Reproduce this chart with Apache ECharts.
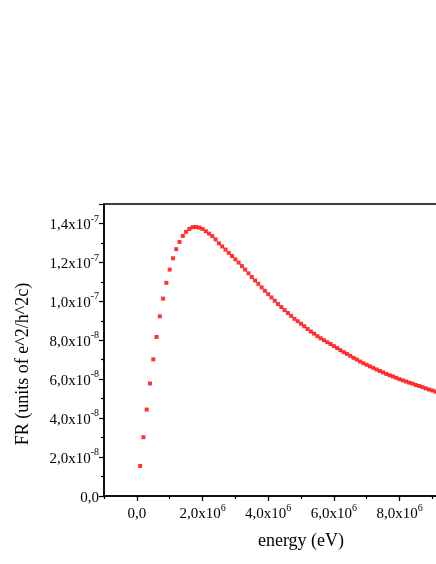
<!DOCTYPE html>
<html>
<head>
<meta charset="utf-8">
<script src="https://cdn.jsdelivr.net/npm/echarts@6/dist/echarts.min.js"></script>
<style>
  html, body { margin: 0; padding: 0; background: #fff; }
  #chart { width: 436px; height: 564px; }
</style>
</head>
<body>
<div id="chart"></div>
<script>
// energy steps, in units of 1e5 eV
var energySteps = [
  1, 2, 3, 4, 5, 6, 7, 8, 9, 10, 11, 12, 13, 14, 15, 16, 17, 18, 19, 20,
  21, 22, 23, 24, 25, 26, 27, 28, 29, 30, 31, 32, 33, 34, 35, 36, 37, 38, 39, 40,
  41, 42, 43, 44, 45, 46, 47, 48, 49, 50, 51, 52, 53, 54, 55, 56, 57, 58, 59, 60,
  61, 62, 63, 64, 65, 66, 67, 68, 69, 70, 71, 72, 73, 74, 75, 76, 77, 78, 79, 80,
  81, 82, 83, 84, 85, 86, 87, 88, 89, 90, 91, 92
];
// FR, in units of 1e-8
var frValues = [
  1.54, 3.02, 4.44, 5.78, 7.02, 8.17, 9.23, 10.14, 10.95, 11.63,
  12.21, 12.68, 13.05, 13.36, 13.57, 13.72, 13.81, 13.82, 13.79, 13.72,
  13.60, 13.48, 13.35, 13.18, 12.98, 12.82, 12.66, 12.49, 12.33, 12.16,
  11.99, 11.81, 11.63, 11.44, 11.25, 11.07, 10.90, 10.72, 10.54, 10.37,
  10.20, 10.03, 9.86, 9.71, 9.55, 9.40, 9.25, 9.10, 8.98, 8.85,
  8.72, 8.58, 8.45, 8.34, 8.21, 8.10, 8.00, 7.90, 7.81, 7.70,
  7.60, 7.49, 7.39, 7.30, 7.20, 7.10, 7.01, 6.91, 6.82, 6.74,
  6.66, 6.58, 6.50, 6.42, 6.35, 6.27, 6.20, 6.14, 6.07, 6.00,
  5.94, 5.88, 5.82, 5.77, 5.70, 5.65, 5.59, 5.53, 5.47, 5.42,
  5.36, 5.31
];
var xMajorTicks = [0, 2e6, 4e6, 6e6, 8e6, 10e6];

var points = energySteps.map(function (k, i) {
  return [k * 1e5, frValues[i] * 1e-8];
});

var FONT = 'Liberation Serif';

function sciLabel(v) {
  if (Math.abs(v) < 1e-30) return '{m|0,0}';
  var e = Math.floor(Math.log10(Math.abs(v)) + 1e-9);
  var m = (v / Math.pow(10, e)).toFixed(1).replace('.', ',');
  return '{m|' + m + 'x10}{s|' + e + '}';
}

var richText = {
  m: { fontFamily: FONT, fontSize: 15, color: '#000', lineHeight: 19, verticalAlign: 'bottom' },
  s: { fontFamily: FONT, fontSize: 10, color: '#000', lineHeight: 19, verticalAlign: 'top' }
};

var chart = echarts.init(document.getElementById('chart'));

chart.setOption({
  animation: false,
  backgroundColor: '#fff',
  grid: {
    left: 104, top: 204, width: 394, height: 292,
    outerBoundsMode: 'none',
    containLabel: false,
    show: true, borderColor: '#000', borderWidth: 1.5
  },
  xAxis: [{
    type: 'value',
    min: -1e6, max: 11e6, interval: 1e6,
    axisLine: { onZero: false, lineStyle: { color: '#000', width: 1.5 } },
    axisTick: { length: 3, lineStyle: { color: '#000', width: 1.2 } },
    axisLabel: { show: false },
    splitLine: { show: false },
    name: 'energy (eV)',
    nameLocation: 'middle',
    nameGap: 36,
    nameTextStyle: { fontFamily: FONT, fontSize: 18, color: '#000' }
  }, {
    type: 'value',
    position: 'bottom',
    min: -1e6, max: 11e6,
    axisLine: { show: false, onZero: false },
    axisTick: { length: 5, customValues: xMajorTicks, lineStyle: { color: '#000', width: 1.2 } },
    axisLabel: {
      customValues: xMajorTicks, margin: 7,
      formatter: sciLabel, rich: richText
    },
    splitLine: { show: false }
  }],
  yAxis: {
    type: 'value',
    min: 0, max: 1.5e-7, interval: 2e-8,
    axisLine: { show: true, onZero: false, lineStyle: { color: '#000', width: 1.5 } },
    axisTick: { show: true, length: 5, lineStyle: { color: '#000', width: 1.2 } },
    minorTick: { show: true, splitNumber: 2, length: 3, lineStyle: { color: '#000', width: 1.2 } },
    axisLabel: { margin: 5, showMaxLabel: false, formatter: sciLabel, rich: richText },
    splitLine: { show: false },
    name: 'FR (units of e^2/h^2c)',
    nameLocation: 'middle',
    nameGap: 72,
    nameTextStyle: { fontFamily: FONT, fontSize: 18, color: '#000', padding: [0, 28, 0, 0] }
  },
  series: [{
    type: 'scatter',
    xAxisIndex: 0,
    data: points,
    symbol: 'rect',
    symbolSize: 4,
    itemStyle: { color: '#ff0000' }
  }]
});
</script>
</body>
</html>
